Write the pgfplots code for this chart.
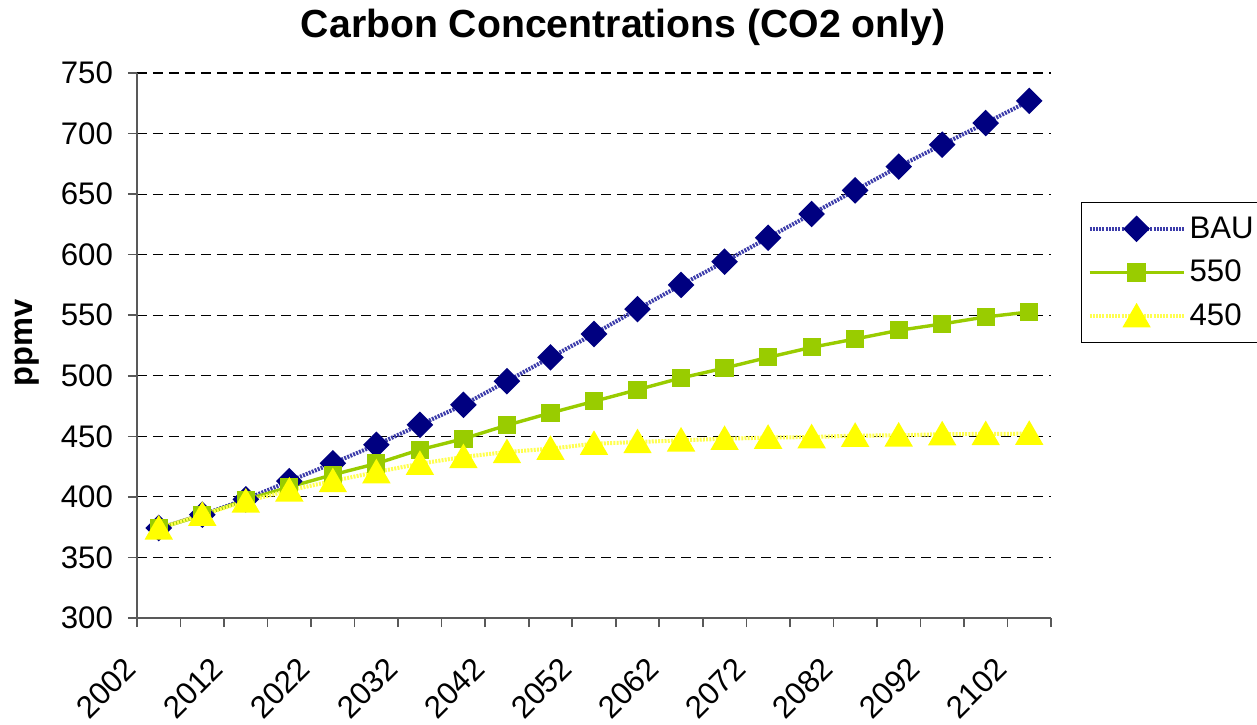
\documentclass[border=0pt]{standalone}
\usepackage{fontspec}
\setmainfont{Liberation Sans}
\usepackage{pgfplots}
\pgfplotsset{compat=1.18}

\definecolor{bauline}{RGB}{60,60,170}
\definecolor{baumark}{RGB}{0,0,128}
\definecolor{lime}{RGB}{153,204,0}
\definecolor{yel}{RGB}{255,255,0}
\definecolor{yelline}{RGB}{255,255,80}

% x = category index (2002, 2007, ..., 2102)
\pgfplotstableread{
x bau s550 s450
1  374.3 374.0 374.0
2  385.3 385.0 385.3
3  398.0 397.5 396.3
4  413.0 408.2 405.4
5  427.8 418.3 413.1
6  443.0 427.5 420.5
7  459.5 439.0 427.4
8  476.0 448.0 433.0
9  495.5 459.2 437.1
10 515.2 469.3 439.8
11 534.5 478.9 443.9
12 555.0 488.5 445.3
13 575.0 498.2 446.7
14 594.2 506.4 448.0
15 614.0 515.2 449.0
16 633.6 523.5 449.4
17 653.1 530.4 450.6
18 672.7 537.5 450.8
19 690.8 542.8 451.8
20 708.7 548.6 452.0
21 727.0 552.7 452.2
}\co

\begin{document}
\begin{tikzpicture}
\begin{axis}[
  at={(0,0)}, anchor=south west,
  scale only axis, width=457pt, height=272.5pt,
  xmin=0.5, xmax=21.5, ymin=300, ymax=750,
  ytick={300,350,...,750},
  xtick={0.5,1.5,...,21.5}, xticklabels={},
  extra x ticks={1,3,...,21},
  extra x tick labels={2002,2012,2022,2032,2042,2052,2062,2072,2082,2092,2102},
  extra x tick style={major tick length=0pt,
    xticklabel style={xshift=-18pt, yshift=-18.5pt, rotate=45, anchor=north east, inner sep=0pt}},
  /pgf/number format/assume math mode=true,
  axis x line*=bottom, axis y line*=left,
  axis line style={black!65, line width=0.8pt},
  tick style={black!65, line width=0.8pt},
  tick align=outside, major tick length=4.5pt,
  ymajorgrids,
  grid style={black, line width=0.6pt, dash pattern=on 5pt off 3pt},
  ticklabel style={font=\fontsize{15.6}{18}\selectfont},
  yticklabel style={xshift=-4pt},
  ylabel={\bfseries ppmv},
  ylabel style={font=\fontsize{16.3}{19}\selectfont, at={(axis description cs:-0.120,0.505)}, anchor=center, rotate=0},
  every axis title shift=0pt,
  title={\bfseries Carbon Concentrations (CO2 only)},
  title style={font=\fontsize{19.6}{23}\selectfont, at={(axis description cs:0.532,1.083)}, anchor=center},
  legend style={at={(rel axis cs:1.0328,0.7633)}, anchor=north west,
    draw=black, line width=0.6pt, fill=white,
    font=\fontsize{15.6}{18}\selectfont, row sep=5.5pt, inner xsep=3pt, inner ysep=5pt},
  legend cell align=left,
  legend image code/.code={\draw[mark repeat=2,mark phase=2,#1] plot coordinates {(0pt,0pt)(23.5pt,0pt)(47pt,0pt)};},
]
\addplot[bauline, line width=2pt, dash pattern=on 1pt off 0.6pt,
  mark=square*, mark size=3.7pt, mark options={solid, rotate=45, fill=baumark, draw=baumark}]
  table[x=x, y=bau] {\co};
\addlegendentry{BAU}
\addplot[lime, line width=1.7pt,
  mark=square*, mark size=3.7pt, mark options={solid, fill=lime, draw=lime}]
  table[x=x, y=s550] {\co};
\addlegendentry{550}
\addplot[yelline, line width=2pt, dash pattern=on 1pt off 0.6pt,
  mark=triangle*, mark size=6.2pt, mark options={solid, fill=yel, draw=yel, yshift=-1.5pt}]
  table[x=x, y=s450] {\co};
\addlegendentry{450}
\end{axis}
\pgfresetboundingbox
\path[use as bounding box] (-68.5pt,-53pt) rectangle (560pt,309pt);
\end{tikzpicture}
\end{document}
